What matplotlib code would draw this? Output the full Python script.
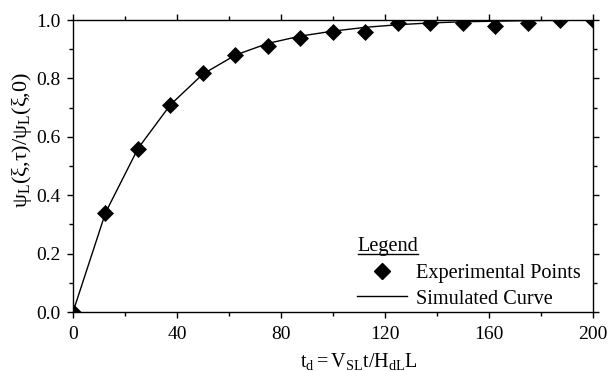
import matplotlib
matplotlib.use('Agg')
import matplotlib.pyplot as plt
from matplotlib.ticker import MultipleLocator, FormatStrFormatter
from matplotlib.lines import Line2D

plt.rcParams['font.family'] = ['Liberation Serif', 'DejaVu Serif']
plt.rcParams['mathtext.fontset'] = 'custom'
plt.rcParams['mathtext.rm'] = 'Liberation Serif'
plt.rcParams['mathtext.it'] = 'Liberation Serif'
plt.rcParams['mathtext.bf'] = 'Liberation Serif:bold'

# Datos experimentales
t_exp = [0, 12.5, 25, 37.5, 50, 62.5, 75, 87.5, 100, 112.5, 125, 137.5, 150, 162.5, 175, 187.5, 200]
psi_exp = [0.0, 0.34, 0.56, 0.71, 0.82, 0.88, 0.91, 0.94, 0.96, 0.96, 0.99, 0.99, 0.99, 0.98, 0.99, 1.0, 1.0]

# Curva simulada
t_sim = [0, 12.5, 25, 37.5, 50, 62.5, 75, 87.5, 100, 112.5, 125, 137.5, 150, 162.5, 175, 187.5, 200]
psi_sim = [0.0, 0.34, 0.56, 0.71, 0.815, 0.88, 0.92, 0.945, 0.962, 0.975, 0.984, 0.99, 0.994, 0.996, 0.998, 0.999, 1.0]

fs = 14

fig = plt.figure(figsize=(6.1, 3.71), dpi=100)
ax = fig.add_axes([0.1197, 0.159, 0.852, 0.787])

ax.plot(t_sim, psi_sim, color='black', linewidth=1.0, zorder=2)
ax.plot(t_exp, psi_exp, linestyle='none', marker='D', markersize=8.5, markeredgewidth=0.5,
        color='black', zorder=3)

ax.set_xlim(0, 200)
ax.set_ylim(0, 1.0)
ax.xaxis.set_major_locator(MultipleLocator(40))
ax.xaxis.set_minor_locator(MultipleLocator(20))
ax.yaxis.set_major_locator(MultipleLocator(0.2))
ax.yaxis.set_minor_locator(MultipleLocator(0.1))
ax.yaxis.set_major_formatter(FormatStrFormatter('%.1f'))

ax.tick_params(which='both', direction='out', top=True, right=True, labelsize=fs, width=1)
ax.tick_params(which='major', length=4)
ax.tick_params(which='minor', length=3)
ax.tick_params(axis='x', pad=6)
ax.tick_params(axis='y', pad=5)
for s in ax.spines.values():
    s.set_linewidth(1.0)

ax.set_xlabel(r'$\mathrm{t_d = V_{SL}t/H_{dL}L}$', fontsize=14.5)
ax.xaxis.set_label_coords(0.55, -0.135)
ax.set_ylabel(r'ψ$_\mathrm{L}$(ξ,τ)/ψ$_\mathrm{L}$(ξ,0)', fontsize=16)
ax.yaxis.set_label_coords(-0.075, 0.59)

# Leyenda
handles = [Line2D([], [], linestyle='none', marker='D', markersize=8.5, color='black'),
           Line2D([], [], color='black', linewidth=1.0)]
leg = ax.legend(handles, ['Experimental Points', 'Simulated Curve'], loc='lower left',
                bbox_to_anchor=(0.546, 0.012), frameon=False, fontsize=14.6,
                handlelength=2.5, handletextpad=0.4, labelspacing=0.3,
                borderaxespad=0, borderpad=0)
ax.text(0.548, 0.209, 'Legend', transform=ax.transAxes, fontsize=14.6, va='baseline', ha='left')
ax.plot([0.548, 0.663], [0.197, 0.197], transform=ax.transAxes, color='black',
        linewidth=1.0, clip_on=False)

plt.savefig('out.png', dpi=100)
